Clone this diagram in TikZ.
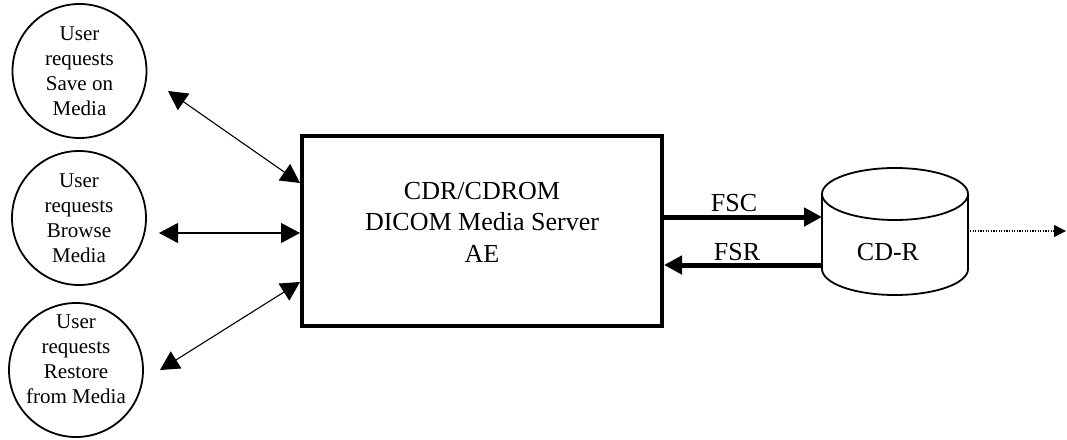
\documentclass[tikz,border=0pt]{standalone}
\usepackage{fontspec}
\setmainfont{Liberation Serif}
\usetikzlibrary{arrows.meta}
\begin{document}
\begin{tikzpicture}[x=1pt,y=-1pt,
  actor/.style={circle,draw,line width=1.8pt,minimum size=134pt,inner sep=0pt,align=center,font=\fontsize{21}{25}\selectfont},
  link/.style={line width=1.1pt,{Triangle[length=19pt,width=20pt]}-{Triangle[length=19pt,width=20pt]}},
  flow/.style={line width=5pt,-{Triangle[length=18pt,width=18pt]}},
  big/.style={font=\fontsize{26}{31.5}\selectfont,align=center,inner sep=0pt},
  server/.style={draw,line width=4pt,minimum width=360pt,minimum height=190pt,inner sep=0pt},
  disk/.style={line width=1.8pt}]
\useasboundingbox (0,0) rectangle (1067,439);
% actors
\node[actor] (c1) at (79.5,71) {User\\requests\\Save on\\Media};
\node[actor] (c2) at (79,218) {User\\requests\\Browse\\Media};
\node[actor, label={[big,font=\fontsize{21}{25}\selectfont,yshift=11pt]center:{User\\requests\\Restore\\from Media}}] (c3) at (76,370) {};
% server
\node[server, label={[big,yshift=9pt]center:{CDR/CDROM\\DICOM Media Server\\AE}}] (box) at (482,231) {};
% free ends near actors
\coordinate (e1) at (168,91);
\coordinate (e2) at (159,233);
\coordinate (e3) at (160,370);
\draw[link] (e1) -- (box.west |- 0,183);
\draw[link] (e2) -- (box.west |- 0,233);
\draw[link] (box.west |- 0,282) -- (e3);
% cylinder
\draw[disk] (895,194) ellipse[x radius=73pt, y radius=26pt];
\draw[disk] (822,194) -- (822,269) arc[start angle=180, end angle=360, x radius=73pt, y radius=26pt] -- (968,194);
\node[big] (cdr) at (888,252) {CD-R};
\coordinate (cylW) at (822,231);
\coordinate (cylE) at (970,231);
\coordinate (out) at (1066,231);
% flows
\draw[flow] (box.east |- 0,217) -- (cylW |- 0,217);
\draw[flow] (cylW |- 0,265) -- (box.east |- 0,265);
\node[big] (fsc) at (734,203) {FSC};
\node[big] (fsr) at (737,252) {FSR};
\draw[line width=1.6pt,dash pattern=on 1.2pt off 1.4pt,-{Triangle[length=12pt,width=12pt]}] (cylE) -- (out);
\end{tikzpicture}
\end{document}
